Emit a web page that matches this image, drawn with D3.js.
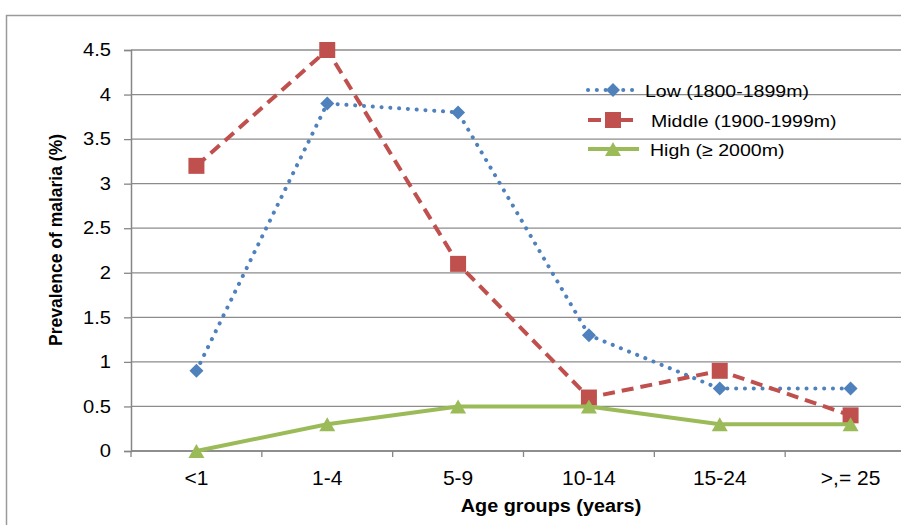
<!DOCTYPE html>
<html>
<head>
<meta charset="utf-8">
<script src="https://cdn.jsdelivr.net/npm/d3@7"></script>
<style>
  body { margin: 0; background: #fff; }
  svg { display: block; font-family: "Liberation Sans", Arial, sans-serif; }
</style>
</head>
<body>
<div id="chart"></div>
<script>
var width = 901;
var height = 525;
var margin = { top: 50, right: -15, left: 131, bottom: 74 };

// data
var ageGroups = ["<1", "1-4", "5-9", "10-14", "15-24", ">,= 25"];
var lowValues = [0.9, 3.9, 3.8, 1.3, 0.7, 0.7];
var middleValues = [3.2, 4.5, 2.1, 0.6, 0.9, 0.4];
var highValues = [0, 0.3, 0.5, 0.5, 0.3, 0.3];
var yTicks = [0, 0.5, 1, 1.5, 2, 2.5, 3, 3.5, 4, 4.5];
var seriesNames = ["Low (1800-1899m)", "Middle (1900-1999m)", "High (\u2265 2000m)"];

var series = [
    { name: seriesNames[0], values: lowValues, color: "#4F81BD", dash: "0.1 8.7", width: 4, cap: "round", marker: "diamond" },
    { name: seriesNames[1], values: middleValues, color: "#C0504D", dash: "12 7", width: 4, cap: "butt", marker: "square" },
    { name: seriesNames[2], values: highValues, color: "#9BBB59", dash: null, width: 4, cap: "butt", marker: "triangle" }
];

var svg = d3.select("#chart")
    .append("svg")
    .attr("width", width)
    .attr("height", height);

// outer chart border
svg.append("path")
    .attr("d", "M6.5," + height + " V15.5 H" + width)
    .attr("fill", "none")
    .attr("stroke", "#9a9a9a")
    .attr("stroke-width", 1.5);

var x = d3.scaleBand()
    .domain(ageGroups)
    .range([margin.left, width - margin.right]);

var y = d3.scaleLinear()
    .domain([0, 4.5])
    .range([height - margin.bottom, margin.top]);

// gridlines
svg.append("g")
    .selectAll("line")
    .data(yTicks)
    .join("line")
    .attr("x1", margin.left)
    .attr("x2", width)
    .attr("y1", d => y(d))
    .attr("y2", d => y(d))
    .attr("stroke", "#8c8c8c")
    .attr("stroke-width", 1.3);

// y axis
var yAxis = svg.append("g")
    .attr("transform", "translate(" + margin.left + ",0)")
    .call(d3.axisLeft(y).tickValues(yTicks).tickFormat(d3.format("")).tickSize(7).tickPadding(13));

yAxis.select(".domain").attr("stroke", "#868686").attr("stroke-width", 1.5);
yAxis.selectAll(".tick line").attr("stroke", "#868686").attr("stroke-width", 1.3);
yAxis.selectAll(".tick text")
    .attr("font-size", 18)
    .attr("font-family", "Liberation Sans, Arial, sans-serif")
    .attr("fill", "#000")
    .attr("x", -20 / 1.12)
    .attr("transform", "scale(1.12,1)");

// x axis
var xAxis = svg.append("g")
    .attr("transform", "translate(0," + y(0) + ")")
    .call(d3.axisBottom(x).tickSize(0).tickPadding(20));

xAxis.select(".domain").remove();
svg.append("line")
    .attr("x1", margin.left)
    .attr("x2", width)
    .attr("y1", y(0))
    .attr("y2", y(0))
    .attr("stroke", "#868686")
    .attr("stroke-width", 1.5);

svg.append("g")
    .selectAll("line")
    .data(ageGroups)
    .join("line")
    .attr("x1", d => x(d))
    .attr("x2", d => x(d))
    .attr("y1", y(0))
    .attr("y2", y(0) + 6)
    .attr("stroke", "#868686")
    .attr("stroke-width", 1.3);

xAxis.selectAll(".tick text")
    .attr("font-size", 20)
    .attr("font-family", "Liberation Sans, Arial, sans-serif")
    .attr("fill", "#000")
    .attr("transform", "scale(1.05,1)");

// axis titles
svg.append("text")
    .attr("transform", "translate(551,511.5) scale(1.06,1)")
    .attr("text-anchor", "middle")
    .attr("font-size", 18.7)
    .attr("font-weight", "bold")
    .text("Age groups (years)");

svg.append("text")
    .attr("transform", "translate(62,240) rotate(-90)")
    .attr("text-anchor", "middle")
    .attr("font-size", 17.5)
    .attr("font-weight", "bold")
    .text("Prevalence of malaria (%)");

function markerPath(type) {
    if (type === "diamond") return "M0,-7 L7,0 L0,7 L-7,0 Z";
    if (type === "square") return "M-8,-8 H8 V8 H-8 Z";
    return "M0,-7 L8,7 L-8,7 Z";
}

var line = d3.line()
    .x((d, i) => x(ageGroups[i]) + x.bandwidth() / 2)
    .y(d => y(d));

series.forEach(function (s) {
    svg.append("path")
        .datum(s.values)
        .attr("d", line)
        .attr("fill", "none")
        .attr("stroke", s.color)
        .attr("stroke-width", s.width)
        .attr("stroke-linecap", s.cap)
        .attr("stroke-dasharray", s.dash);

    svg.append("g")
        .selectAll("path")
        .data(s.values)
        .join("path")
        .attr("transform", (d, i) => "translate(" + (x(ageGroups[i]) + x.bandwidth() / 2) + "," + y(d) + ")")
        .attr("d", markerPath(s.marker))
        .attr("fill", s.color);
});

// legend
var legendY = [90, 120, 149];
var legendText = [645, 651, 650];
var legend = svg.append("g");
series.forEach(function (s, i) {
    var g = legend.append("g").attr("transform", "translate(0," + legendY[i] + ")");
    g.append("line")
        .attr("x1", 588)
        .attr("x2", s.marker === "triangle" ? 639 : 633)
        .attr("y1", 0)
        .attr("y2", 0)
        .attr("stroke", s.color)
        .attr("stroke-width", s.width)
        .attr("stroke-linecap", s.cap)
        .attr("stroke-dasharray", s.marker === "square" ? "13 20 12" : s.dash);
    g.append("path")
        .attr("transform", "translate(613,0)")
        .attr("d", markerPath(s.marker))
        .attr("fill", s.color);
    g.append("text")
        .attr("transform", "translate(" + legendText[i] + ",6.5) scale(1.13,1)")
        .attr("font-size", 17.3)
        .text(s.name);
});
</script>
</body>
</html>
